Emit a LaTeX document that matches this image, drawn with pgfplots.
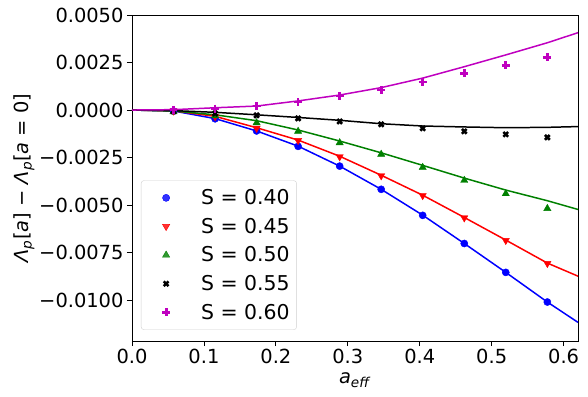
\documentclass[border=0pt]{standalone}
\usepackage{fontspec}
\setmainfont{DejaVu Sans}
\usepackage{pgfplots}
\pgfplotsset{compat=1.18}
\definecolor{mplgreen}{RGB}{0,128,0}
\definecolor{mplmag}{RGB}{191,0,191}
\newcommand{\bigfont}{\fontsize{19.5}{23}\selectfont}
\pgfplotsset{
  pts/.style={only marks,
    legend image code/.code={\path[draw=none,fill=none] (0bp,-3bp) rectangle (40bp,3bp);
      \draw[mark repeat=2,mark phase=2,##1] plot coordinates {(0bp,0bp)(20bp,0bp)(40bp,0bp)};}},
}

\begin{document}
\begin{tikzpicture}
\begin{axis}[
    scale only axis, width=446bp, height=326bp,
    xmin=0, xmax=0.62, ymin=-0.01215, ymax=0.005,
    xtick={0,0.1,0.2,0.3,0.4,0.5,0.6},
    xticklabels={0.0,0.1,0.2,0.3,0.4,0.5,0.6},
    ytick={-0.01,-0.0075,-0.005,-0.0025,0,0.0025,0.005},
    yticklabels={−0.0100,−0.0075,−0.0050,−0.0025,0.0000,0.0025,0.0050},
    scaled y ticks=false, scaled x ticks=false,
    tick align=outside, tick pos=left,
    major tick length=5bp,
    every tick/.style={black, line width=0.8pt},
    axis line style={line width=0.8pt},
    tick label style={font=\bigfont},
    label style={font=\bigfont},
    xlabel={\textit{a}\textsubscript{\textit{eff}}},
    ylabel={\textit{Λ}\textsubscript{\textit{p}}[\textit{a}] − \textit{Λ}\textsubscript{\textit{p}}[\textit{a} = 0]},
    xlabel style={yshift=-2bp},
    ylabel style={yshift=-2bp},
    legend style={at={(0.02,0.034)}, anchor=south west,
        font=\fontsize{20.5}{24}\selectfont,
        draw=black!18, rounded corners=3pt, fill=white, fill opacity=0.8, text opacity=1,
        row sep=8bp, inner xsep=5bp, inner ysep=7bp,
        /tikz/every odd column/.append style={column sep=13bp}},
    legend cell align=left,
]
% fitted curves
\addplot[blue, line width=1.5pt, forget plot] coordinates {
 (0,0) (0.0577,-0.00005) (0.1155,-0.00045) (0.1732,-0.0011) (0.2309,-0.0019)
 (0.2887,-0.00295) (0.3464,-0.00417) (0.4041,-0.00553) (0.4619,-0.00702)
 (0.5196,-0.00854) (0.5774,-0.0101) (0.62,-0.01117)};
\addplot[red, line width=1.5pt, forget plot] coordinates {
 (0,0) (0.0577,-0.00004) (0.1155,-0.00033) (0.1732,-0.00093) (0.2309,-0.00158)
 (0.2887,-0.00243) (0.3464,-0.00343) (0.4041,-0.00448) (0.4619,-0.00565)
 (0.5196,-0.00684) (0.5774,-0.00805) (0.62,-0.00874)};
\addplot[mplgreen, line width=1.5pt, forget plot] coordinates {
 (0,0) (0.0577,-0.00005) (0.1155,-0.00025) (0.1732,-0.00056) (0.2309,-0.00105)
 (0.2887,-0.00163) (0.3464,-0.00225) (0.4041,-0.00291) (0.4619,-0.00358)
 (0.5196,-0.00421) (0.5774,-0.00477) (0.62,-0.00523)};
\addplot[black, line width=1.5pt, forget plot] coordinates {
 (0,0) (0.0577,-0.00003) (0.1155,-0.00012) (0.1732,-0.00025) (0.2309,-0.00039)
 (0.2887,-0.00054) (0.3464,-0.00072) (0.4041,-0.00084) (0.4619,-0.00089)
 (0.5196,-0.00093) (0.5774,-0.00091) (0.62,-0.00087)};
\addplot[mplmag, line width=1.5pt, forget plot] coordinates {
 (0,0) (0.0577,0.00002) (0.1155,0.00012) (0.1732,0.00021) (0.2309,0.00048)
 (0.2887,0.00079) (0.3464,0.00118) (0.4041,0.00168) (0.4619,0.00228)
 (0.5196,0.0029) (0.5774,0.00354) (0.62,0.00407)};
% data points
\addplot[pts, mark=*, mark size=3.6pt, blue] coordinates {
 (0.0577,-0.00005) (0.1155,-0.00046) (0.1732,-0.0011) (0.2309,-0.00191)
 (0.2887,-0.00295) (0.3464,-0.00417) (0.4041,-0.00554) (0.4619,-0.00702)
 (0.5196,-0.00854) (0.5774,-0.0101)};
\addlegendentry{S = 0.40}
\addplot[pts, mark=triangle*, mark size=4.2pt, red, mark options={rotate=180}] coordinates {
 (0.0577,-0.00005) (0.1155,-0.00035) (0.1732,-0.00096) (0.2309,-0.0016)
 (0.2887,-0.00246) (0.3464,-0.00346) (0.4041,-0.0045) (0.4619,-0.00567)
 (0.5196,-0.00686) (0.5774,-0.00807)};
\addlegendentry{S = 0.45}
\addplot[pts, mark=triangle*, mark size=4.2pt, mplgreen] coordinates {
 (0.0577,-0.00009) (0.1155,-0.0003) (0.1732,-0.00067) (0.2309,-0.00112)
 (0.2887,-0.00172) (0.3464,-0.00233) (0.4041,-0.00302) (0.4619,-0.0037)
 (0.5196,-0.0044) (0.5774,-0.00518)};
\addlegendentry{S = 0.50}
\addplot[pts, mark=x, mark size=3.4pt, black, mark options={line width=2.6pt}] coordinates {
 (0.0577,-0.00007) (0.1155,-0.00018) (0.1732,-0.00028) (0.2309,-0.00044)
 (0.2887,-0.0006) (0.3464,-0.00075) (0.4041,-0.00096) (0.4619,-0.00112)
 (0.5196,-0.00128) (0.5774,-0.00144)};
\addlegendentry{S = 0.55}
\addplot[pts, mark=+, mark size=4pt, mplmag, mark options={line width=2.8pt}] coordinates {
 (0.0577,0.00001) (0.1155,0.00007) (0.1732,0.00021) (0.2309,0.00042)
 (0.2887,0.00074) (0.3464,0.00105) (0.4041,0.00147) (0.4619,0.00193)
 (0.5196,0.00235) (0.5774,0.00277)};
\addlegendentry{S = 0.60}
\end{axis}
\pgfresetboundingbox
\path[use as bounding box] ([shift={(-132bp,-56bp)}]current axis.south west) rectangle ([shift={(10bp,15bp)}]current axis.north east);
\end{tikzpicture}
\end{document}
